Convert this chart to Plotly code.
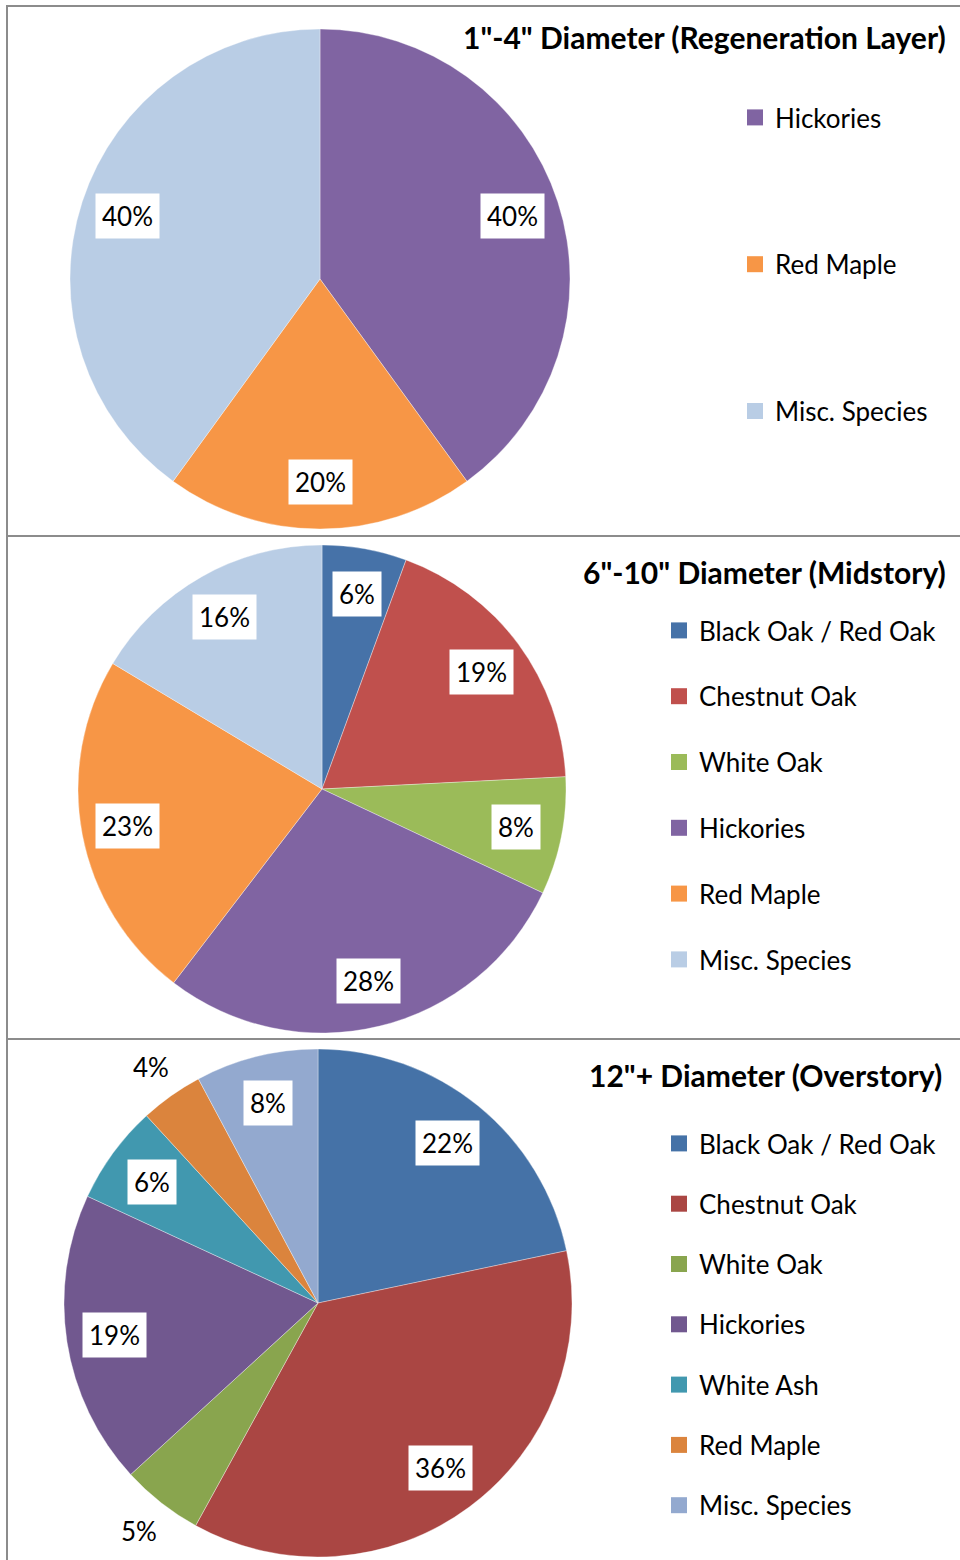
import math

import plotly.graph_objects as go

W, H = 960, 1560
FONT = "Lato"

REGEN_SPECIES = ["Hickories", "Red Maple", "Misc. Species"]
REGEN_PCT = [40, 20, 40]
REGEN_COLORS = ["#8064A2", "#F79646", "#B9CDE5"]

MID_SPECIES = ["Black Oak / Red Oak", "Chestnut Oak", "White Oak", "Hickories",
               "Red Maple", "Misc. Species"]
MID_PCT = [5.6, 18.6, 7.8, 28.4, 23.2, 16.4]
MID_COLORS = ["#4672A8", "#C0504D", "#9BBB59", "#8064A2", "#F79646", "#B9CDE5"]

OVER_SPECIES = ["Black Oak / Red Oak", "Chestnut Oak", "White Oak", "Hickories",
                "White Ash", "Red Maple", "Misc. Species"]
OVER_PCT = [21.7, 36.3, 5.2, 18.7, 6.3, 4.0, 7.8]
OVER_COLORS = ["#4572A7", "#AA4643", "#89A54E", "#71588F", "#4198AF", "#DB843D", "#93A9CF"]
OVER_OUTSIDE = ["White Oak", "Red Maple"]

PANELS = [
    dict(title='1"-4" Diameter (Regeneration Layer)', species=REGEN_SPECIES,
         pct=REGEN_PCT, colors=REGEN_COLORS, outside=[],
         center=(320, 279), radius=250, title_xy=(948, 37),
         legend="legend", legend_xy=(735, 94), gap=110),
    dict(title='6"-10" Diameter (Midstory)', species=MID_SPECIES,
         pct=MID_PCT, colors=MID_COLORS, outside=[],
         center=(322, 789), radius=244, title_xy=(948, 572),
         legend="legend2", legend_xy=(659, 607), gap=29),
    dict(title='12"+ Diameter (Overstory)', species=OVER_SPECIES,
         pct=OVER_PCT, colors=OVER_COLORS, outside=OVER_OUTSIDE,
         center=(318, 1303), radius=254, title_xy=(944, 1075),
         legend="legend3", legend_xy=(659, 1120), gap=23.5),
]
PANEL_EDGES = [6, 536, 1039, 1570]


def px_x(x):
    return x / W


def px_y(y):
    return 1 - y / H


fig = go.Figure()
annotations = []
layout_legends = {}

for p in PANELS:
    cx, cy = p["center"]
    r = p["radius"]
    fig.add_trace(go.Pie(
        labels=p["species"],
        values=p["pct"],
        sort=False,
        direction="clockwise",
        rotation=0,
        marker=dict(colors=p["colors"], line=dict(color="rgba(255,255,255,0.5)", width=0.7)),
        textinfo="none",
        hoverinfo="label+percent",
        showlegend=False,
        domain=dict(x=[px_x(cx - r), px_x(cx + r)], y=[px_y(cy + r), px_y(cy - r)]),
    ))

    # percentage labels, placed at the middle angle of each slice
    total = sum(p["pct"])
    cum = 0
    for name, v in zip(p["species"], p["pct"]):
        mid = math.radians((cum + v / 2) / total * 360)
        cum += v
        out = name in p["outside"]
        rr = r * (1.14 if out else 0.81)
        annotations.append(dict(
            x=px_x(cx + rr * math.sin(mid)), y=px_y(cy - rr * math.cos(mid)),
            xref="paper", yref="paper", showarrow=False,
            xanchor="center", yanchor="middle",
            text=f"{v / total * 100:.0f}%",
            font=dict(family=FONT, size=26, color="#000000"),
            bgcolor="rgba(0,0,0,0)" if out else "#FFFFFF",
            borderpad=6,
        ))

    tx, ty = p["title_xy"]
    annotations.append(dict(
        x=px_x(tx), y=px_y(ty), xref="paper", yref="paper", showarrow=False,
        xanchor="right", yanchor="middle", text=f"<b>{p['title']}</b>",
        font=dict(family=FONT, size=30, color="#000000"),
    ))

    # legend entries as square markers
    for name, c in zip(p["species"], p["colors"]):
        fig.add_trace(go.Scatter(
            x=[None], y=[None], mode="markers", name=name,
            marker=dict(symbol="square", size=16, color=c),
            legend=p["legend"], legendgroup=f"{p['legend']}-{name}",
            hoverinfo="skip",
        ))
    lx, ly = p["legend_xy"]
    layout_legends[p["legend"]] = dict(
        x=px_x(lx), y=px_y(ly), xanchor="left", yanchor="top",
        tracegroupgap=p["gap"], itemsizing="trace", traceorder="grouped",
        font=dict(family=FONT, size=26, color="#000000"),
        bgcolor="rgba(0,0,0,0)",
    )

shapes = []
for top, bottom in zip(PANEL_EDGES[:-1], PANEL_EDGES[1:]):
    shapes.append(dict(
        type="rect", xref="paper", yref="paper",
        x0=px_x(7), x1=px_x(975), y0=px_y(bottom), y1=px_y(top),
        line=dict(color="#8C8C8C", width=2), fillcolor="rgba(0,0,0,0)", layer="above",
    ))

fig.update_layout(
    width=W, height=H,
    margin=dict(l=0, r=0, t=0, b=0),
    paper_bgcolor="#FFFFFF", plot_bgcolor="#FFFFFF",
    xaxis=dict(visible=False), yaxis=dict(visible=False),
    annotations=annotations, shapes=shapes,
    font=dict(family=FONT),
    **layout_legends,
)

fig.write_html(
    "out.html",
    config={"displayModeBar": False},
    post_script="document.body.style.margin='0px';document.body.style.overflow='hidden';",
)
